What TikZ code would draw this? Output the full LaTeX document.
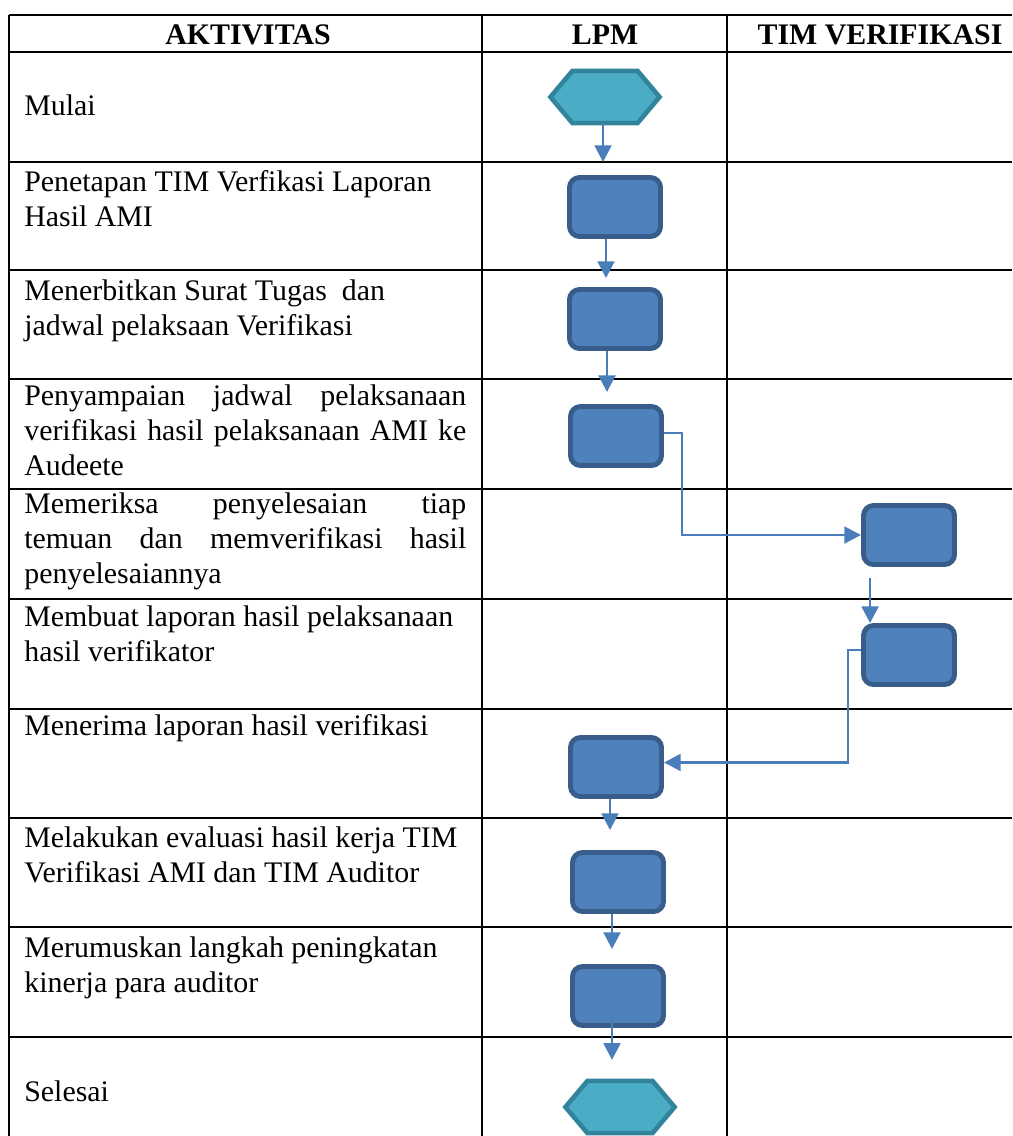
\documentclass[tikz,border=0pt]{standalone}
\usepackage{fontspec}
\setmainfont{Liberation Serif}
\usetikzlibrary{calc,arrows.meta}
\definecolor{boxfill}{HTML}{4F81BD}
\definecolor{boxline}{HTML}{385D8A}
\definecolor{termfill}{HTML}{4BACC6}
\definecolor{termline}{HTML}{31849B}
\definecolor{flowline}{HTML}{4A7EBB}
\tikzset{
	grid/.style={line width=1.2pt, black},
	head/.style={anchor=base, inner sep=0, font=\fontsize{17}{20}\selectfont\bfseries},
	txt/.style={anchor=base west, inner sep=0, text width=8.84cm, align=justify, font=\fontsize{17}{20.2}\selectfont},
	proc/.style={draw=boxline, fill=boxfill, line width=2.8pt, rounded corners=0.2cm, minimum width=1.82cm, minimum height=1.18cm, inner sep=0},
	term/.style={minimum width=2.17cm, minimum height=1.03cm, inner sep=0},
	hexfill/.style={draw=termline, fill=termfill, line width=2.6pt, line join=miter},
	flow/.style={flowline, line width=1.6pt, -{Triangle[length=9.5pt,width=9.5pt]}}
}
\def\hexa#1{\draw[hexfill] (#1.west) -- ($(#1.north west)+(22,0)$) -- ($(#1.north east)+(-22,0)$) -- (#1.east) -- ($(#1.south east)+(-22,0)$) -- ($(#1.south west)+(22,0)$) -- cycle;}

\begin{document}
\begin{tikzpicture}[x=0.02cm, y=-0.02cm]
		%%%%% TABLE %%%%%
		\useasboundingbox (0, 0) rectangle (1012, 1136);
		
		\draw[grid] (9, 15) -- (1012, 15) (9, 52) -- (1012, 52)
			(9, 162) -- (1012, 162) (9, 270) -- (1012, 270)
			(9, 379) -- (1012, 379) (9, 489) -- (1012, 489)
			(9, 599) -- (1012, 599) (9, 709) -- (1012, 709)
			(9, 818) -- (1012, 818) (9, 927) -- (1012, 927)
			(9, 1037) -- (1012, 1037);
		\draw[grid] (9, 15) -- (9, 1136) (482, 15) -- (482, 1136) (727, 15) -- (727, 1136);
		
		\node[head] (hakt) at (248, 44) {AKTIVITAS};
		\node[head] (hlpm) at (605, 44) {LPM};
		\node[head] (htim) at (880, 44) {TIM VERIFIKASI};
		
		%%%%% AKTIVITAS %%%%%
		\node[txt] (t1) at (24, 115) {Mulai};
		\node[txt] (t2) at (24, 191) {Penetapan TIM Verfikasi Laporan\\Hasil AMI};
		\node[txt] (t3) at (24, 300) {Menerbitkan Surat Tugas~ dan\\jadwal pelaksaan Verifikasi};
		\node[txt] (t4) at (24, 405) {\makebox[\linewidth][s]{Penyampaian jadwal pelaksanaan}\\\makebox[\linewidth][s]{verifikasi hasil pelaksanaan AMI ke}\\Audeete};
		\node[txt] (t5) at (24, 513) {\makebox[\linewidth][s]{Memeriksa penyelesaian tiap}\\\makebox[\linewidth][s]{temuan dan memverifikasi hasil}\\penyelesaiannya};
		\node[txt] (t6) at (24, 626) {Membuat laporan hasil pelaksanaan\\hasil verifikator};
		\node[txt] (t7) at (24, 735) {Menerima laporan hasil verifikasi};
		\node[txt] (t8) at (24, 847) {Melakukan evaluasi hasil kerja TIM\\Verifikasi AMI dan TIM Auditor};
		\node[txt] (t9) at (24, 957) {Merumuskan langkah peningkatan\\kinerja para auditor};
		\node[txt] (t10) at (24, 1101) {Selesai};
		
		%%%%% SYMBOLS %%%%%
		\node[term] (start) at (605, 97) {};
		\hexa{start}
		\node[proc] (b1) at (615, 207) {};
		\node[proc] (b2) at (615, 319) {};
		\node[proc] (b3) at (616, 436) {};
		\node[proc] (b4) at (909, 535) {};
		\node[proc] (b5) at (909, 655) {};
		\node[proc] (b6) at (616, 767) {};
		\node[proc] (b7) at (618, 882) {};
		\node[proc] (b8) at (618, 996) {};
		\node[term] (stop) at (620, 1107) {};
		\hexa{stop}
		
		%%%%% FLOW %%%%%
		\draw[flow, shorten >=0.26cm] ([xshift=-0.04cm]start.south) -- ([xshift=-0.04cm]start.south |- b1.north);
		\draw[flow, shorten >=0.18cm] ([xshift=-0.18cm]b1.south) -- ([xshift=-0.18cm]b1.south |- b2.north);
		\draw[flow, shorten >=0.24cm] ([xshift=-0.16cm]b2.south) -- ([xshift=-0.16cm]b2.south |- b3.north);
		\draw[flow] ([yshift=0.06cm]b3.east) -- ++(18, 0) |- (b4.west);
		\draw[flow, shorten <=0.22cm] ($(b4.south west)+(9, 0)$) -- ($(b5.north west)+(9, 0)$);
		\draw[flow] ([yshift=0.1cm]b5.west) -- ++(-13, 0) |- ([yshift=0.09cm]b6.east);
		\draw[flow, shorten >=0.4cm] ([xshift=-0.12cm]b6.south) -- ([xshift=-0.12cm]b6.south |- b7.north);
		\draw[flow, shorten >=0.3cm] ([xshift=-0.12cm]b7.south) -- ([xshift=-0.12cm]b7.south |- b8.north);
		\draw[flow, shorten <=-0.3cm, shorten >=0.42cm] ([xshift=-0.12cm]b8.south) -- ([xshift=-0.12cm]b8.south |- stop.north);
		
		%%%%% END %%%%%
\end{tikzpicture}
\end{document}
